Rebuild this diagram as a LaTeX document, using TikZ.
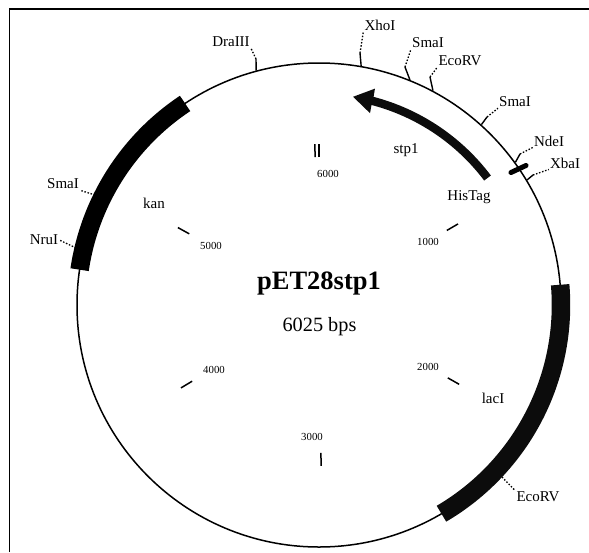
\documentclass[tikz,border=0pt]{standalone}
\usepackage{fontspec}
\setmainfont{Liberation Serif}
\usepackage{tikz}
\usetikzlibrary{shapes, positioning, calc}
\definecolor{band1}{RGB}{12,12,12}
\begin{document}
\begin{tikzpicture}[x=1pt, y=1pt,
    plasmid/.style={draw=black, shape=circle, line width=1.5pt, minimum size=484pt, inner sep=0pt},
    genebar/.style={draw=black, line width=18.5pt},
    scaletick/.style={black, line width=1.5pt},
    sitetick/.style={black, line width=1.4pt},
    sitedots/.style={black, line width=1.3pt, dash pattern=on 1.5pt off 1.7pt},
    sitelabel/.style={font=\fontsize{15}{15}\selectfont, inner sep=1pt},
    scalelabel/.style={font=\fontsize{10.8}{11}\selectfont, inner sep=0pt},
    genelabel/.style={font=\fontsize{15}{15}\selectfont, inner sep=0pt}
]
        \useasboundingbox (0,0) rectangle (589,-552);

        % frame, only two sides are printed
        \coordinate (frameA) at (9.5,-552);
        \coordinate (frameB) at (9.5,-9);
        \coordinate (frameC) at (589,-9);
        \draw[line width=1.5pt] (frameA) -- (frameB) -- (frameC);

        \coordinate (centre) at (319,-305);
        \node[plasmid, name=vector] at (centre) { };

        % resistance and repressor genes
        \draw[genebar] ([shift={(centre)}]123.6:242) arc (123.6:171.6:242);
        \draw[genebar, draw=band1] ([shift={(centre)}]4.8:242) arc (4.8:-59.6:242);

        % stp1 with its arrow head
        \fill[band1] ([shift={(centre)}]37:215.2) arc (37:75.3:215.2)
            -- ([shift={(centre)}]75.5:223.5)
            -- ([shift={(centre)}]80.7:211)
            -- ([shift={(centre)}]75.1:198.5)
            -- ([shift={(centre)}]75.3:206.8) arc (75.3:37:206.8) -- cycle;

        % short bar on the circle
        \coordinate (barA) at (511,-172.5);
        \coordinate (barB) at (526,-165.5);
        \draw[black, line width=5pt, line cap=round] (barA) -- (barB);

        \node[font=\bfseries\fontsize{26.5}{27}\selectfont, name=title] at (319,-284) {pET28stp1};
        \node[font=\fontsize{20.3}{21}\selectfont, name=size] at (319.5,-327) {6025 bps};

        % scale ticks every 1000 bases
        \foreach \pos/\lx/\ly in {1000/428/-242, 2000/428/-367, 3000/312/-437,
                                  4000/214/-370, 5000/211/-246, 6000/328/-174}{
            \pgfmathsetmacro{\ang}{90-\pos/6025*360}
            \coordinate (in\pos) at ([shift={(centre)}]\ang:148);
            \coordinate (out\pos) at ([shift={(centre)}]\ang:161);
            \draw[scaletick] (in\pos) -- (out\pos);
            \node[scalelabel, name=num\pos] at (\lx,\ly) {\pos};
        }
        \coordinate (inzero) at ([shift={(centre)}]90:148);
        \coordinate (outzero) at ([shift={(centre)}]90:161);
        \draw[scaletick] (inzero) -- (outzero);

        \node[genelabel, name=stp] at (406,-150) {stp1};
        \node[genelabel, name=his] at (469,-197) {HisTag};
        \node[genelabel, name=kan] at (154,-203) {kan};
        \node[genelabel, name=lac] at (493,-398) {lacI};

        % restriction sites
        \node[sitelabel, name=xho] at (380,-25) {XhoI};
        \node[sitelabel, name=smaA] at (428,-43) {SmaI};
        \node[sitelabel, name=eco] at (460,-61) {EcoRV};
        \node[sitelabel, name=smaB] at (515,-102) {SmaI};
        \node[sitelabel, name=nde] at (549,-141) {NdeI};
        \node[sitelabel, name=xba] at (565,-163) {XbaI};
        \node[sitelabel, name=dra] at (231,-42) {DraIII};
        \node[sitelabel, name=smaC] at (63,-184) {SmaI};
        \node[sitelabel, name=nru] at (44,-240) {NruI};
        \node[sitelabel, name=ecoB] at (538,-497) {EcoRV};

        \coordinate (kneeXho) at (360,-53);
        \coordinate (kneeSmaA) at (405,-67);
        \coordinate (kneeEco) at (430,-77);
        \coordinate (kneeSmaB) at (487,-117);
        \coordinate (kneeNde) at (520,-154);
        \coordinate (kneeXba) at (533,-175);
        \coordinate (kneeDra) at (256,-59);
        \coordinate (footSmaC) at (95,-195);
        \coordinate (footNru) at (76,-248);
        \coordinate (footEco) at (502,-477);

        \draw[sitetick] (vector.80.8) -- (kneeXho);
        \draw[sitetick] (vector.68.5) -- (kneeSmaA);
        \draw[sitetick] (vector.62.2) -- (kneeEco);
        \draw[sitetick] (vector.48.6) -- (kneeSmaB);
        \draw[sitetick] (vector.36.9) -- (kneeNde);
        \draw[sitetick] (vector.31.4) -- (kneeXba);
        \draw[sitetick] (vector.105) -- (kneeDra);

        \draw[sitedots] (kneeXho) -- (xho.south west);
        \draw[sitedots] (kneeSmaA) -- (smaA.south west);
        \draw[sitedots] (kneeEco) -- (eco.south west);
        \draw[sitedots] (kneeSmaB) -- (smaB.south west);
        \draw[sitedots] (kneeNde) -- (nde.south west);
        \draw[sitedots] (kneeXba) -- (xba.south west);
        \draw[sitedots] (kneeDra) -- (dra.south east);
        \draw[sitedots] (footSmaC) -- (smaC.south east);
        \draw[sitedots] (footNru) -- (nru.east);
        \draw[sitedots] (footEco) -- (ecoB.north west);
\end{tikzpicture}
\end{document}
